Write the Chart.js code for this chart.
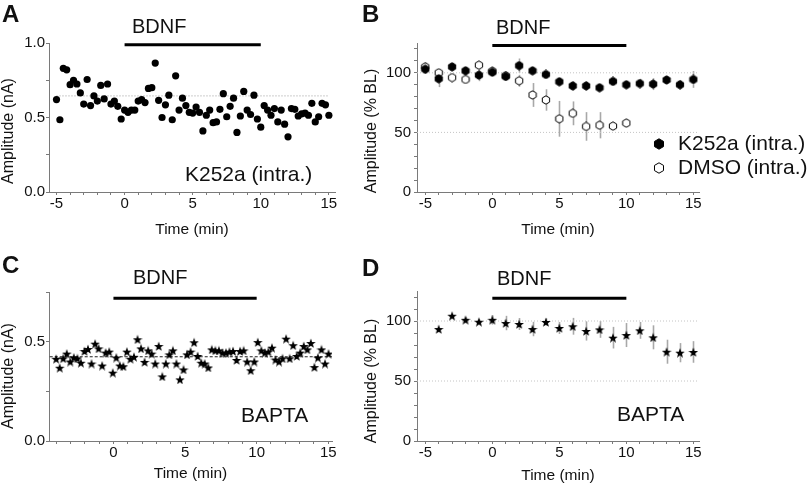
<!DOCTYPE html>
<html>
<head>
<meta charset="utf-8">
<script src="https://cdn.jsdelivr.net/npm/chart.js@4.4.1/dist/chart.umd.min.js"></script>
<style>
  html, body { margin: 0; padding: 0; background: #fff; }
  #wrap { position: relative; width: 810px; height: 488px; }
  #wrap canvas { position: absolute; left: 0; top: 0; }
</style>
</head>
<body>
<div id="wrap">
  <canvas id="chart-a" width="810" height="488"></canvas>
  <canvas id="chart-b" width="810" height="488"></canvas>
  <canvas id="chart-c" width="810" height="488"></canvas>
  <canvas id="chart-d" width="810" height="488"></canvas>
</div>
<script>
// Panel A: K252a (intra.), single cell, one sweep every 15 s
const startA = -5;
const stepA = 0.25;
const ampA = [
  0.62, 0.485, 0.83, 0.82, 0.72, 0.75, 0.725, 0.665, 0.59, 0.755, 0.58, 0.645, 0.61, 0.715, 0.625, 0.725, 0.59, 0.61, 0.575, 0.49,
  0.55, 0.535, 0.55, 0.55, 0.61, 0.62, 0.6, 0.695, 0.70, 0.865, 0.615, 0.50, 0.585, 0.65, 0.485, 0.78, 0.55, 0.63, 0.58, 0.535,
  0.53, 0.57, 0.535, 0.41, 0.515, 0.55, 0.465, 0.47, 0.555, 0.66, 0.505, 0.575, 0.63, 0.40, 0.51, 0.675, 0.55, 0.52, 0.65, 0.49,
  0.435, 0.58, 0.55, 0.515, 0.56, 0.47, 0.55, 0.455, 0.37, 0.56, 0.555, 0.51, 0.525, 0.53, 0.515, 0.595, 0.47, 0.505, 0.595, 0.585, 0.515,
];
const baselineA = 0.645;

// Panel B: normalised amplitude (% BL), mean +/- SEM per minute
const timesB = [-5, -4, -3, -2, -1, 0, 1, 2, 3, 4, 5, 6, 7, 8, 9, 10, 11, 12, 13, 14, 15];
const k252aB = [103, 95, 105, 101.7, 98, 100.5, 97, 106, 101.7, 98.6, 92.5, 89, 89, 87.5, 92.8, 90, 91, 90.5, 94, 90, 94.4];
const k252aErrB = [4, 7, 3, 3, 5, 3, 3, 6, 2, 2, 3, 4, 4, 2, 2, 3, 4, 5, 2, 4, 7];
const timesDmso = [-5, -4, -3, -2, -1, 0, 1, 2, 3, 4, 5, 6, 7, 8, 9, 10];
const dmsoB = [105, 100, 96, 94.4, 106.4, 101.4, 97.5, 93.3, 81.4, 77.2, 61.4, 66, 55, 56, 55.3, 57.8];
const dmsoErrB = [4, 3, 2, 2, 2, 2, 3, 5, 10, 9, 15, 10, 12, 11, 3, 2];

// Panel C: BAPTA, single cell
const startC = -4;
const stepC = 0.247;
const ampC = [
  0.414, 0.369, 0.416, 0.44, 0.40, 0.42, 0.416, 0.394, 0.453, 0.463, 0.39, 0.49, 0.466, 0.38, 0.445, 0.45, 0.344, 0.42, 0.38, 0.376,
  0.45, 0.414, 0.424, 0.512, 0.466, 0.398, 0.456, 0.44, 0.39, 0.478, 0.325, 0.39, 0.436, 0.456, 0.39, 0.31, 0.36, 0.436, 0.45, 0.497,
  0.428, 0.394, 0.39, 0.37, 0.461, 0.456, 0.456, 0.445, 0.445, 0.45, 0.453, 0.408, 0.453, 0.456, 0.40, 0.356, 0.40, 0.498, 0.456, 0.445,
  0.45, 0.47, 0.41, 0.40, 0.416, 0.515, 0.416, 0.482, 0.428, 0.445, 0.478, 0.461, 0.493, 0.372, 0.42, 0.461, 0.39, 0.44,
];
const baselineC = 0.424;

// Panel D: BAPTA, % BL
const timesD = [-4, -3, -2, -1, 0, 1, 2, 3, 4, 5, 6, 7, 8, 9, 10, 11, 12, 13, 14, 15];
const baptaD = [93.3, 104.4, 101, 99.4, 101, 98.3, 97.5, 93.3, 99.2, 94.2, 95.6, 91.7, 93, 86.1, 88.3, 92.2, 86.4, 74.4, 73.6, 74.2];
const baptaErrD = [1, 1, 2, 2, 4, 6, 5, 6, 3, 5, 7, 8, 7, 9, 10, 7, 10, 10, 8, 9];

// BDNF application window (min)
const bdnfWindow = [0, 10];

const FONT = "'Liberation Sans', Arial, sans-serif";
const AXIS = '#7a7a7a';
const INK = '#111';

Chart.defaults.font.family = FONT;
Chart.defaults.color = INK;
Chart.defaults.animation = false;
Chart.defaults.events = [];

/**
 * Marker images
 */
function makeStar(size) {
  const c = document.createElement('canvas');
  c.width = c.height = size;
  const g = c.getContext('2d');
  const r = size / 2;
  g.beginPath();
  for (let i = 0; i < 10; i++) {
    const a = -Math.PI / 2 + (i * Math.PI) / 5;
    const rr = i % 2 ? r * 0.42 : r;
    g.lineTo(r + rr * Math.cos(a), r + 0.6 + rr * Math.sin(a));
  }
  g.closePath();
  g.fillStyle = '#000';
  g.fill();
  return c;
}

function makeHex(size, filled) {
  const c = document.createElement('canvas');
  c.width = c.height = size;
  const g = c.getContext('2d');
  const r = size / 2 - 0.8;
  g.beginPath();
  for (let i = 0; i < 6; i++) {
    const a = -Math.PI / 2 + (i * Math.PI) / 3;
    g.lineTo(size / 2 + r * Math.cos(a), size / 2 + r * Math.sin(a));
  }
  g.closePath();
  g.fillStyle = filled ? '#000' : '#fff';
  g.fill();
  g.lineWidth = 1;
  g.strokeStyle = '#000';
  g.stroke();
  return c;
}

const starImg = makeStar(10);
const hexFilled = makeHex(10, true);
const hexOpen = makeHex(10, false);

const toPoints = (xs, ys) => ys.map((y, i) => ({ x: xs[i], y }));
const sweepPoints = (start, step, ys) => ys.map((y, i) => ({ x: start + i * step, y }));

function range(a, b, s) {
  const out = [];
  for (let v = a; v <= b + 1e-9; v += s) out.push(Math.round(v * 100) / 100);
  return out;
}

/**
 * Axis builders
 */
function xAxis(min, max, tickVals, labelled, height, titlePad) {
  return {
    type: 'linear',
    min,
    max,
    afterBuildTicks: (s) => { s.ticks = tickVals.map((v) => ({ value: v })); },
    afterFit: (s) => { s.height = height; },
    ticks: {
      autoSkip: false,
      maxRotation: 0,
      padding: 0,
      color: INK,
      font: { size: 15 },
      callback: (v) => (labelled.includes(v) ? String(v) : ''),
    },
    grid: { display: true, drawOnChartArea: false, drawTicks: true, tickLength: 3, color: AXIS },
    border: { display: true, color: AXIS, width: 1 },
    title: { display: true, text: 'Time (min)', color: INK, font: { size: 15.5 }, padding: { top: 0, bottom: titlePad } },
  };
}

function yAxis(min, max, tickVals, labelled, fmt, width, pad) {
  return {
    type: 'linear',
    min,
    max,
    afterBuildTicks: (s) => { s.ticks = tickVals.map((v) => ({ value: v })); },
    afterFit: (s) => { s.width = width; },
    ticks: {
      autoSkip: false,
      padding: pad,
      color: INK,
      font: { size: 15 },
      callback: (v) => (labelled.includes(v) ? fmt(v) : ''),
    },
    grid: { display: true, drawOnChartArea: false, drawTicks: true, tickLength: 3, color: AXIS },
    border: { display: true, color: AXIS, width: 1 },
  };
}

/**
 * Reference line / drug bar datasets
 */
function hLine(x0, x1, y, color, width, dash) {
  return {
    type: 'line',
    data: [{ x: x0, y }, { x: x1, y }],
    borderColor: color,
    borderWidth: width,
    borderDash: dash,
    pointRadius: 0,
    showLine: true,
    clip: false,
  };
}

/**
 * Error bars and text annotations
 */
const errorBarPlugin = {
  id: 'errorBars',
  beforeDatasetsDraw(chart) {
    const { ctx } = chart;
    const xs = chart.scales.x;
    const ys = chart.scales.y;
    ctx.save();
    ctx.strokeStyle = '#a8a8a8';
    ctx.lineWidth = 1.6;
    chart.data.datasets.forEach((ds) => {
      if (!ds.errors) return;
      ds.data.forEach((p, i) => {
        const e = ds.errors[i];
        const px = Math.round(xs.getPixelForValue(p.x)) + 0.5;
        ctx.beginPath();
        ctx.moveTo(px, ys.getPixelForValue(p.y - e));
        ctx.lineTo(px, ys.getPixelForValue(p.y + e));
        ctx.stroke();
      });
    });
    ctx.restore();
  },
};

function annotations(items) {
  return {
    id: 'annotations',
    afterDraw(chart) {
      const { ctx } = chart;
      ctx.save();
      ctx.fillStyle = INK;
      ctx.textBaseline = 'middle';
      items.forEach((it) => {
        if (it.img) {
          ctx.drawImage(it.img, it.x - it.img.width / 2, it.y - it.img.height / 2);
          return;
        }
        ctx.font = it.font;
        ctx.textAlign = it.align || 'left';
        if (it.rotate) {
          ctx.save();
          ctx.translate(it.x, it.y);
          ctx.rotate(-Math.PI / 2);
          ctx.textAlign = 'center';
          ctx.fillText(it.text, 0, 0);
          ctx.restore();
        } else {
          ctx.fillText(it.text, it.x, it.y);
        }
      });
      ctx.restore();
    },
  };
}

const baseOptions = (padding, scales) => ({
  responsive: false,
  maintainAspectRatio: false,
  layout: { padding },
  plugins: { legend: { display: false }, tooltip: { enabled: false } },
  scales,
});

const LETTER = `bold 24px ${FONT}`;
const BIG = `21px ${FONT}`;
const MID = `20px ${FONT}`;
const YT = `16px ${FONT}`;

const fmt1 = (v) => v.toFixed(1);
const fmt0 = (v) => String(v);

// ---- Panel A ----
new Chart(document.getElementById('chart-a'), {
  type: 'scatter',
  data: {
    datasets: [
      { data: sweepPoints(startA, stepA, ampA), pointStyle: 'circle', pointRadius: 3.6, backgroundColor: '#000', borderWidth: 0 },
      hLine(bdnfWindow[0], bdnfWindow[1], 0.988, '#000', 3, []),
      hLine(-5, 15, baselineA, '#9a9a9a', 1, [1, 2]),
    ],
  },
  options: baseOptions({ left: 0, top: 43, right: 475, bottom: 244 }, {
    x: xAxis(-5.55, 15.45, range(-5, 15, 1), [-5, 0, 5, 10, 15], 52, 5),
    y: yAxis(0, 1, [0, 0.25, 0.5, 0.75, 1], [0, 0.5, 1], fmt1, 49, 1),
  }),
  plugins: [annotations([
    { text: 'A', x: 2, y: 15, font: LETTER },
    { text: 'BDNF', x: 132, y: 27, font: MID },
    { text: 'K252a (intra.)', x: 185, y: 175, font: BIG },
    { text: 'Amplitude (nA)', x: 9, y: 131, font: YT, rotate: true },
  ])],
});

// ---- Panel B ----
new Chart(document.getElementById('chart-b'), {
  type: 'scatter',
  data: {
    datasets: [
      { data: toPoints(timesB, k252aB), errors: k252aErrB, pointStyle: hexFilled },
      { data: toPoints(timesDmso, dmsoB), errors: dmsoErrB, pointStyle: hexOpen },
      hLine(bdnfWindow[0], bdnfWindow[1], 122.8, '#000', 3, []),
      hLine(-5.62, 15.42, 100, '#c4c4c4', 1, [1, 2]),
      hLine(-5.62, 15.42, 50, '#c4c4c4', 1, [1, 2]),
    ],
  },
  plugins: [errorBarPlugin, annotations([
    { text: 'B', x: 362, y: 15, font: LETTER },
    { text: 'BDNF', x: 496, y: 28, font: MID },
    { text: 'Amplitude (% BL)', x: 372, y: 131, font: YT, rotate: true },
    { img: makeHex(12, true), x: 659, y: 144 },
    { text: 'K252a (intra.)', x: 678, y: 144, font: BIG },
    { img: makeHex(12, false), x: 659, y: 168 },
    { text: 'DMSO (intra.)', x: 678, y: 168, font: BIG },
  ])],
  options: baseOptions({ left: 362, top: 43, right: 111, bottom: 244 }, {
    x: xAxis(-5.62, 15.42, range(-5, 15, 1), [-5, 0, 5, 10, 15], 52, 5),
    y: yAxis(0, 125, range(0, 120, 10), [0, 50, 100], fmt0, 55, 3),
  }),
});

// ---- Panel C ----
new Chart(document.getElementById('chart-c'), {
  type: 'scatter',
  data: {
    datasets: [
      { data: sweepPoints(startC, stepC, ampC), pointStyle: starImg },
      hLine(bdnfWindow[0], bdnfWindow[1], 0.718, '#000', 3, []),
      hLine(-4.45, 15.25, baselineC, '#222', 1, [3, 2]),
    ],
  },
  plugins: [annotations([
    { text: 'C', x: 2, y: 266, font: LETTER },
    { text: 'BDNF', x: 133, y: 278, font: MID },
    { text: 'BAPTA', x: 241, y: 416, font: BIG },
    { text: 'Amplitude (nA)', x: 9, y: 376, font: YT, rotate: true },
  ])],
  options: baseOptions({ left: 0, top: 292, right: 478, bottom: 0 }, {
    x: xAxis(-4.5, 15.26, range(-4, 15, 1), [0, 5, 10, 15], 47, 5),
    y: yAxis(0, 0.75, [0, 0.25, 0.5, 0.75], [0, 0.5], fmt1, 49, 1),
  }),
});

// ---- Panel D ----
new Chart(document.getElementById('chart-d'), {
  type: 'scatter',
  data: {
    datasets: [
      { data: toPoints(timesD, baptaD), errors: baptaErrD, pointStyle: starImg },
      hLine(bdnfWindow[0], bdnfWindow[1], 119, '#000', 3, []),
      hLine(-5.62, 15.42, 100, '#c4c4c4', 1, [1, 2]),
      hLine(-5.62, 15.42, 50, '#c4c4c4', 1, [1, 2]),
    ],
  },
  plugins: [errorBarPlugin, annotations([
    { text: 'D', x: 362, y: 269, font: LETTER },
    { text: 'BDNF', x: 497, y: 279, font: MID },
    { text: 'BAPTA', x: 617, y: 415, font: BIG },
    { text: 'Amplitude (% BL)', x: 372, y: 381, font: YT, rotate: true },
  ])],
  options: baseOptions({ left: 362, top: 291, right: 111, bottom: 0 }, {
    x: xAxis(-5.62, 15.42, range(-5, 15, 1), [-5, 0, 5, 10, 15], 47, 3),
    y: yAxis(0, 125, range(0, 120, 10), [0, 50, 100], fmt0, 55, 3),
  }),
});
</script>
</body>
</html>
